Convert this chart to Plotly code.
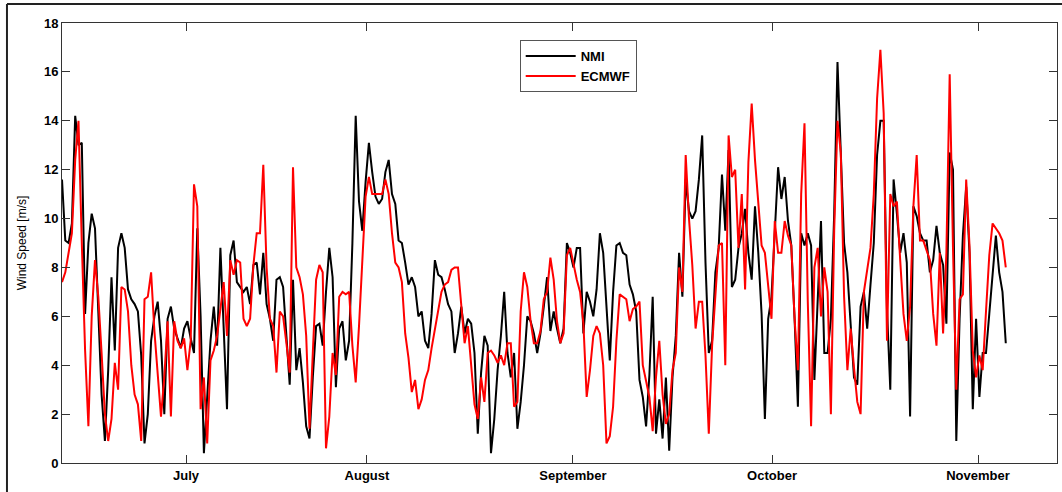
import plotly.graph_objects as go

# ---- data (sampled every 12 h, day offset from start of series) ----
step_days = 0.5

nmi = [
    11.6, 9.1, 9.0, 9.8, 14.2, 13.0, 13.1, 6.1, 9.0, 10.2, 9.6, 6.0, 2.8, 0.9, 3.8, 7.6, 4.6, 8.8, 9.4, 8.8,
    7.1, 6.7, 6.5, 6.2, 4.4, 0.8, 2.0, 5.0, 6.0, 6.6, 5.0, 2.0, 5.9, 6.4, 5.5, 5.1, 4.7, 5.5, 5.8, 5.1,
    4.5, 9.6, 6.0, 0.4, 2.5, 5.0, 6.4, 4.8, 8.8, 5.4, 2.2, 8.5, 9.1, 7.4, 7.2, 7.0, 7.2, 6.5, 8.1, 8.2,
    6.9, 8.6, 6.5, 5.9, 5.0, 7.5, 7.6, 7.2, 5.2, 3.2, 7.5, 3.8, 4.7, 3.3, 1.5, 1.0, 3.5, 5.6, 5.7, 4.8,
    7.0, 8.8, 7.6, 3.1, 5.5, 5.8, 4.2, 5.0, 9.0, 14.2, 10.7, 9.5, 11.5, 13.1, 11.9, 10.9, 10.6, 10.8, 11.9, 12.4,
    11.0, 10.6, 9.1, 9.0, 8.2, 7.3, 7.6, 7.2, 6.0, 6.2, 5.0, 4.7, 6.1, 8.3, 7.7, 7.6, 7.1, 6.5, 6.2, 4.5,
    5.3, 6.4, 5.3, 5.9, 5.7, 4.5, 1.2, 3.7, 5.2, 4.8, 0.4, 1.8, 3.8, 5.2, 7.0, 4.5, 3.5, 4.5, 1.4, 2.5,
    4.0, 6.0, 5.8, 5.3, 4.5, 5.3, 6.4, 7.6, 5.4, 6.2, 5.5, 4.9, 5.5, 9.0, 8.6, 8.0, 8.8, 8.8, 5.3, 7.0,
    6.6, 6.0, 7.1, 9.4, 8.6, 6.2, 4.2, 7.0, 8.9, 9.0, 8.6, 8.5, 7.3, 6.9, 6.2, 3.4, 2.7, 1.5, 3.6, 6.8,
    1.2, 2.6, 1.0, 3.5, 0.5, 3.5, 5.2, 8.6, 6.8, 11.6, 10.3, 10.0, 10.3, 11.6, 13.4, 8.2, 4.5, 5.0, 7.8, 8.8,
    11.8, 9.5, 12.8, 7.2, 7.5, 8.8, 9.4, 10.4, 8.6, 7.5, 10.5, 8.6, 6.1, 1.8, 5.9, 6.8, 9.4, 12.1, 10.8, 11.7,
    9.9, 8.9, 5.9, 2.3, 9.4, 8.9, 9.4, 8.9, 3.4, 6.9, 9.9, 4.5, 4.5, 5.9, 10.2, 16.4, 13.0, 9.0, 7.8, 5.5,
    3.5, 3.2, 6.4, 7.0, 5.5, 7.3, 9.0, 12.6, 14.0, 14.0, 6.3, 3.0, 11.6, 10.2, 8.6, 9.4, 8.2, 1.9, 10.5, 10.1,
    9.4, 9.1, 9.1, 7.8, 8.3, 9.7, 8.6, 8.1, 5.7, 12.7, 12.0, 0.9, 5.9, 9.3, 11.3, 8.6, 2.2, 5.9, 2.7, 4.5,
    4.5, 6.1, 7.6, 9.3, 7.8, 7.0, 4.9,
]

ecmwf = [
    7.4, 7.8, 8.6, 9.4, 12.4, 14.0, 9.0, 4.6, 1.5, 6.0, 8.3, 6.8, 4.5, 2.0, 0.9, 1.8, 4.1, 3.0, 7.2, 7.1,
    6.2, 4.0, 2.8, 2.4, 0.9, 6.7, 6.8, 7.8, 5.4, 3.6, 1.9, 3.5, 5.8, 1.9, 5.8, 5.0, 4.7, 5.1, 3.8, 5.0,
    11.4, 10.5, 2.2, 3.5, 0.8, 4.2, 4.6, 5.2, 6.4, 7.4, 5.2, 8.3, 7.7, 8.3, 8.2, 5.9, 5.6, 5.9, 8.1, 9.4,
    9.4, 12.2, 8.0, 5.9, 5.6, 3.7, 6.2, 6.0, 4.9, 3.7, 12.1, 8.0, 7.6, 6.9, 5.2, 1.4, 4.5, 7.5, 8.1, 7.8,
    0.6, 1.9, 4.5, 3.6, 6.8, 7.0, 6.9, 7.0, 4.8, 3.3, 5.6, 8.0, 10.9, 11.7, 11.0, 11.0, 11.0, 11.0, 11.6, 11.0,
    9.4, 8.2, 8.0, 7.4, 5.3, 4.3, 2.9, 3.4, 2.2, 2.6, 3.4, 3.8, 4.7, 5.5, 6.2, 7.0, 7.3, 7.4, 7.9, 8.0,
    8.0, 6.4, 4.9, 5.6, 4.0, 2.4, 1.8, 3.5, 2.5, 4.5, 4.6, 4.4, 4.1, 4.4, 4.0, 4.9, 4.9, 2.3, 2.5, 6.2,
    7.8, 7.2, 5.8, 4.9, 4.9, 5.4, 6.7, 7.0, 8.4, 7.5, 5.8, 4.9, 5.3, 8.5, 8.8, 8.1, 7.5, 7.0, 5.7, 2.7,
    3.8, 5.2, 5.6, 5.3, 4.0, 0.8, 1.1, 2.3, 5.0, 6.9, 6.8, 6.7, 5.8, 6.3, 6.4, 6.6, 4.0, 3.4, 2.7, 1.3,
    3.5, 5.0, 2.8, 1.6, 2.0, 3.8, 4.5, 8.0, 7.0, 12.6, 10.0, 8.1, 5.5, 6.6, 6.6, 4.4, 1.2, 4.8, 6.9, 8.9,
    9.0, 4.0, 13.4, 11.7, 12.0, 8.8, 11.0, 7.1, 12.3, 14.7, 12.4, 10.5, 8.9, 8.6, 7.2, 5.9, 9.9, 8.6, 8.6, 9.9,
    9.3, 8.9, 5.9, 3.8, 11.0, 13.9, 6.6, 1.5, 8.0, 8.8, 6.0, 8.0, 7.0, 2.0, 9.5, 14.0, 12.7, 6.8, 3.8, 5.5,
    3.9, 2.5, 2.0, 7.0, 7.9, 8.8, 11.0, 14.9, 16.9, 14.3, 5.0, 11.0, 10.5, 10.7, 8.3, 6.1, 5.0, 6.4, 10.5, 12.6,
    9.1, 9.1, 8.7, 8.3, 6.1, 4.8, 8.6, 5.3, 8.6, 15.9, 8.8, 3.0, 6.7, 6.9, 11.6, 8.9, 4.6, 3.5, 4.4, 3.8,
    6.2, 8.5, 9.8, 9.6, 9.4, 9.1, 8.0,
]

month_labels = ["July", "August", "September", "October", "November"]
month_days = [18.79, 46.21, 77.42, 107.58, 138.79]   # day offset of each month mark

days = [i * step_days for i in range(len(nmi))]

# ---- figure ----
fig = go.Figure()
fig.add_trace(go.Scatter(x=days, y=nmi, mode="lines", name="NMI",
                         line=dict(color="black", width=2)))
fig.add_trace(go.Scatter(x=days, y=ecmwf, mode="lines", name="ECMWF",
                         line=dict(color="#ff0000", width=2)))

axis_font = dict(family="Liberation Sans, Arial, sans-serif", size=13, color="black", weight="bold")

fig.update_xaxes(range=[0, 150.76], tickvals=month_days, ticktext=month_labels,
                 ticks="inside", ticklen=8, tickwidth=1, tickcolor="#333",
                 showline=True, linecolor="#333", linewidth=1, mirror="ticks",
                 showgrid=False, zeroline=False, tickfont=axis_font)
fig.update_yaxes(range=[0, 18], dtick=2, tick0=0,
                 ticks="inside", ticklen=8, tickwidth=1, tickcolor="#333",
                 showline=True, linecolor="#333", linewidth=1, mirror="ticks",
                 showgrid=False, zeroline=False, tickfont=axis_font,
                 title=dict(text="Wind Speed [m/s]",
                            font=dict(family="Liberation Sans, Arial, sans-serif", size=12, color="black"),
                            standoff=14))

# outer figure frame (top and left edges)
fig.add_shape(type="line", xref="paper", yref="paper", x0=-0.0553, x1=1.01, y0=1.043, y1=1.043,
              line=dict(color="#222", width=2))
fig.add_shape(type="line", xref="paper", yref="paper", x0=-0.0553, x1=-0.0553, y0=-0.07, y1=1.043,
              line=dict(color="#222", width=2))

fig.update_layout(
    width=1062, height=492,
    margin=dict(l=62, r=5, t=23, b=29),
    paper_bgcolor="white", plot_bgcolor="white",
    showlegend=True,
    legend=dict(x=0.46, y=0.961, xanchor="left", yanchor="top",
                bgcolor="white", bordercolor="#555", borderwidth=1,
                font=dict(family="Liberation Sans, Arial, sans-serif", size=13, color="black", weight="bold"),
                itemwidth=50, tracegroupgap=2, entrywidth=105, entrywidthmode="pixels"),
)

fig.write_html("out.html", config={"displayModeBar": False},
               post_script="document.body.style.margin='0';")
